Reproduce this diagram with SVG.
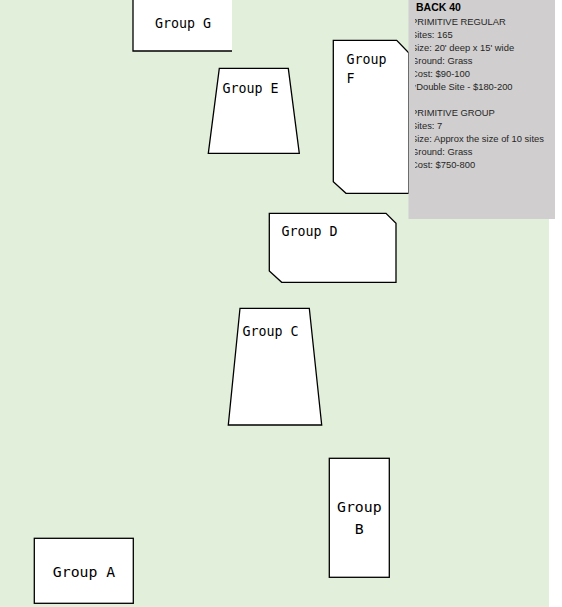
<svg xmlns="http://www.w3.org/2000/svg" width="562" height="607" viewBox="0 0 562 607">
<style>
.shape{fill:#fff;stroke:#000;stroke-width:1.3}
.lbl{font-family:"DejaVu Sans Mono","Liberation Mono",monospace;font-size:13.3px;fill:#000}
.lbl2{font-family:"DejaVu Sans Mono","Liberation Mono",monospace;font-size:14.8px;fill:#000}
.info{font-family:"Liberation Sans",Arial,sans-serif;font-size:9.4px;fill:#262626}
.title{font-family:"Liberation Sans",Arial,sans-serif;font-size:10.5px;font-weight:bold;fill:#000}
</style>
<defs>
<clipPath id="infoclip"><rect x="415" y="0" width="140" height="219"/></clipPath>
</defs>
<rect x="0" y="0" width="562" height="607" fill="#fff"/>
<rect x="0" y="0" width="549" height="607" fill="#e2efda"/>
<g id="groupG">
<rect x="133" y="-2" width="99" height="53" fill="#fff"/>
<path d="M133,-2 V51 H232" fill="none" stroke="#000" stroke-width="1.3"/>
<text class="lbl" x="155" y="28">Group G</text>
</g>
<g id="groupE">
<polygon class="shape" points="219.3,68.3 288.3,68.3 299.3,153.3 208.3,153.3"/>
<text class="lbl" x="222.5" y="93">Group E</text>
</g>
<g id="groupF">
<polygon class="shape" points="333.3,40.3 396.7,40.3 408.7,52.7 408.7,193.3 346,193.3 333.3,181.7"/>
<text class="lbl" x="346.5" y="64">Group</text>
<text class="lbl" x="346.5" y="83">F</text>
</g>
<g id="info">
<rect x="408.5" y="0" width="146.5" height="219" fill="#d0cece"/>
<g clip-path="url(#infoclip)">
<text class="title" x="416" y="11">BACK 40</text>
<text class="info" x="411" y="24.5">PRIMITIVE REGULAR</text>
<text class="info" x="411" y="37.5">Sites: 165</text>
<text class="info" x="411" y="50.5">Size: 20' deep x 15' wide</text>
<text class="info" x="411" y="63.5">Ground: Grass</text>
<text class="info" x="411" y="76.5">Cost: $90-100</text>
<text class="info" x="412.5" y="89.5">*Double Site - $180-200</text>
<text class="info" x="411" y="115.5">PRIMITIVE GROUP</text>
<text class="info" x="411" y="128.5">Sites: 7</text>
<text class="info" x="411" y="141.5">Size: Approx the size of 10 sites</text>
<text class="info" x="411" y="154.5">Ground: Grass</text>
<text class="info" x="411" y="167.5">Cost: $750-800</text>
</g>
</g>
<g id="groupD">
<polygon class="shape" points="269.3,213.3 386,213.3 396,223.3 396,282.3 281.7,282.3 269.3,271"/>
<text class="lbl" x="281.5" y="236">Group D</text>
</g>
<g id="groupC">
<polygon class="shape" points="240,308.3 309.3,308.3 321.7,425 228.3,425"/>
<text class="lbl" x="242.5" y="336">Group C</text>
</g>
<g id="groupB">
<rect class="shape" x="329.3" y="458.3" width="60" height="119"/>
<text class="lbl2" x="359.3" y="512" text-anchor="middle">Group</text>
<text class="lbl2" x="359.3" y="533.5" text-anchor="middle">B</text>
</g>
<g id="groupA">
<rect class="shape" x="34.3" y="538.3" width="99" height="65"/>
<text class="lbl2" x="84" y="577" text-anchor="middle">Group A</text>
</g>
</svg>
